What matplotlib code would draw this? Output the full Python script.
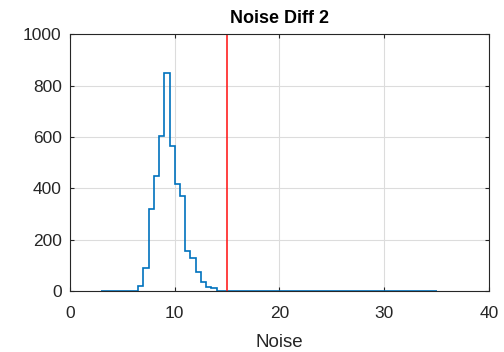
import matplotlib
matplotlib.use("Agg")
import matplotlib.pyplot as plt
import numpy as np

# Histogram of noise values: bin edges every 0.5 from 3 to 35
bin_start, bin_stop, bin_width = 3.0, 35.0, 0.5
nonzero_from = 6.5
nonzero_counts = [20, 89, 319, 448, 602, 849, 564, 417, 370, 156, 127, 74, 35, 16, 9]
threshold = 15

edges = np.arange(bin_start, bin_stop + bin_width / 2, bin_width)
counts = np.zeros(len(edges) - 1)
i0 = int(round((nonzero_from - bin_start) / bin_width))
counts[i0:i0 + len(nonzero_counts)] = nonzero_counts

plt.rcParams["font.family"] = ["Liberation Sans", "DejaVu Sans"]

fig = plt.figure(figsize=(5.04, 3.52), dpi=100)
ax = fig.add_axes([0.139, 0.174, 0.831, 0.728])

ax.stairs(counts, edges, color="#0072BD", linewidth=1.2)
ax.axvline(threshold, color="#FF2020", linewidth=1.2)

ax.set_xlim(0, 40)
ax.set_ylim(0, 1000)
ax.set_xticks([0, 10, 20, 30, 40])
ax.set_yticks([0, 200, 400, 600, 800, 1000])
ax.grid(True, color="#DCDCDC", linewidth=0.8)
ax.set_axisbelow(True)
ax.tick_params(direction="in", length=3, colors="#262626", labelsize=12.5,
               top=True, right=True, labeltop=False, labelright=False)
ax.tick_params(axis="x", pad=11)
ax.tick_params(axis="y", pad=6)
for s in ax.spines.values():
    s.set_color("#262626")
    s.set_linewidth(0.8)

ax.set_title("Noise Diff 2", fontsize=13, fontweight="bold", color="black", pad=8)
ax.set_xlabel("Noise", fontsize=13.5, color="#262626", labelpad=9)

fig.savefig("out.png", dpi=100)
